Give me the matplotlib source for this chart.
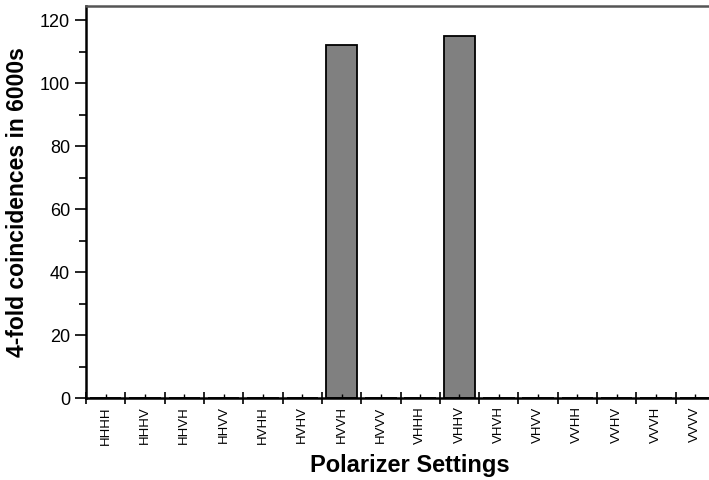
import numpy as np
import matplotlib.pyplot as plt

plt.rcParams['font.family'] = ['Liberation Sans', 'DejaVu Sans']

settings = ['HHHH', 'HHHV', 'HHVH', 'HHVV', 'HVHH', 'HVHV', 'HVVH', 'HVVV',
            'VHHH', 'VHHV', 'VHVH', 'VHVV', 'VVHH', 'VVHV', 'VVVH', 'VVVV']
counts = [0, 0, 0, 0, 0, 0, 112, 0, 0, 115, 0, 0, 0, 0, 0, 0]

fig = plt.figure(figsize=(7.09, 4.80), dpi=100)
# axes runs slightly past the right edge, as in the original
ax = fig.add_axes([0.1213, 0.1708, 0.8872, 0.8157])

x = np.arange(len(settings))
ax.bar(x, counts, width=0.8, color='#808080', edgecolor='black', linewidth=1.3)

ax.set_xlim(-0.5, len(settings) - 0.5)
ax.set_ylim(0, 124.3)

ax.set_xticks(np.arange(len(settings) + 1) - 0.5)
ax.set_xticklabels([])
ax.set_xticks(x, minor=True)
ax.set_xticklabels(settings, minor=True, rotation=90, fontsize=9.5)
ax.tick_params(axis='x', which='major', direction='inout', length=9, width=1.2)
ax.tick_params(axis='x', which='minor', direction='in', length=3, width=1, pad=6)

ax.set_yticks(np.arange(0, 121, 20))
ax.set_yticks(np.arange(10, 121, 20), minor=True)
ax.tick_params(axis='y', which='major', direction='out', length=8, width=1.2, labelsize=13)
ax.tick_params(axis='y', which='minor', direction='out', length=5, width=1.2)

for side in ['left', 'bottom', 'top']:
    ax.spines[side].set_linewidth(1.8)
ax.spines['top'].set_color('#555555')
ax.spines['right'].set_visible(False)

ax.set_xlabel('Polarizer Settings', fontsize=17, fontweight='bold')
ax.xaxis.set_label_coords(0.514, -0.143)
ax.set_ylabel('4-fold coincidences in 6000s', fontsize=16.5, fontweight='bold', labelpad=8)

fig.savefig('out.png', dpi=100)
